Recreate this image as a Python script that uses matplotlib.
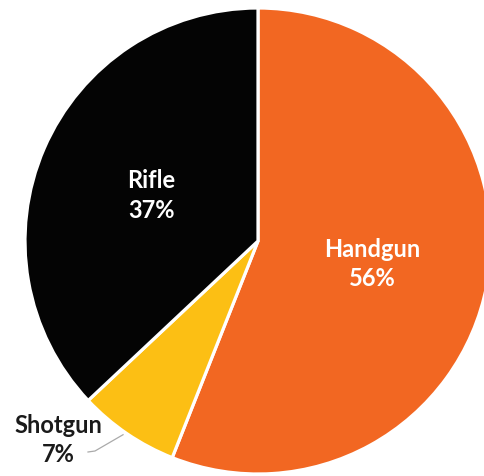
import numpy as np
import matplotlib
matplotlib.use("Agg")
import matplotlib.pyplot as plt

# data
categories = ["Handgun", "Shotgun", "Rifle"]
shares = [56, 7, 37]
colors = ["#F26722", "#FCBF14", "#040404"]

W, H = 484, 477
cx, cy, R = 258, H - 242, 233

fig = plt.figure(figsize=(W / 100, H / 100), dpi=100, facecolor="w")
ax = fig.add_axes([0, 0, 1, 1])

wedges, _ = ax.pie(shares, colors=colors, startangle=90, counterclock=False,
                   center=(cx, cy), radius=R, frame=True,
                   wedgeprops=dict(edgecolor="white", linewidth=2.3))

ax.set_xlim(0, W)
ax.set_ylim(0, H)
ax.set_aspect("equal")
ax.axis("off")

font = dict(family=["Lato", "DejaVu Sans"], fontsize=17, fontweight="bold")

for w, name, val in zip(wedges, categories, shares):
    ang = np.deg2rad((w.theta1 + w.theta2) / 2)
    label = f"{name}\n{val}%"
    if name == "Shotgun":
        # outside label with leader line
        ex, ey = cx + R * np.cos(ang), cy + R * np.sin(ang)
        ax.text(58, H - 440, label, ha="center", va="center", color="#1a1a1a",
                linespacing=1.35, **font)
        ax.plot([ex - 4, 95, 88], [ey - 1, H - 452, H - 453], color="#aaaaaa", lw=0.9)
    else:
        tx, ty = cx + 0.5 * R * np.cos(ang), cy + 0.5 * R * np.sin(ang)
        ax.text(tx, ty, label, ha="center", va="center", color="white",
                linespacing=1.35, **font)

fig.savefig("out.png", dpi=100, facecolor="w")
